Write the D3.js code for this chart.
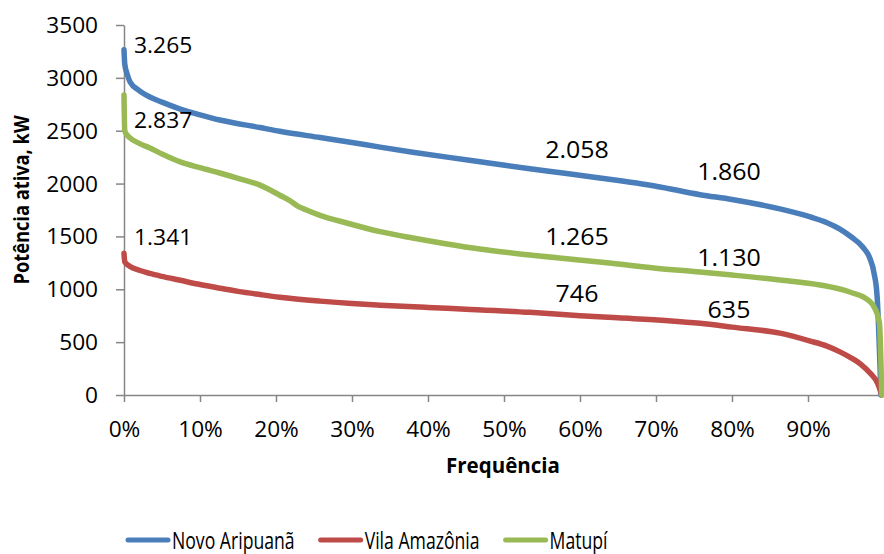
<!DOCTYPE html>
<html>
<head>
<meta charset="utf-8">
<script src="https://cdn.jsdelivr.net/npm/d3@7"></script>
<style>
body { margin: 0; background: #fff; }
svg text { font-family: "Open Sans", sans-serif; fill: #000; }
</style>
</head>
<body>
<div id="chart"></div>
<script>

// ---- data (frequency as fraction of time, power in kW) ----
var seriesNames = ["Novo Aripuanã", "Vila Amazônia", "Matupí"];

var novoAripuana = [
    [0, 3265], [0.001, 3130], [0.004, 3040], [0.008, 2961], [0.02, 2880], [0.034, 2819],
    [0.05, 2770], [0.074, 2705], [0.10, 2650], [0.126, 2601], [0.179, 2530], [0.205, 2495],
    [0.258, 2435], [0.30, 2388], [0.337, 2345], [0.38, 2297], [0.425, 2250], [0.48, 2195],
    [0.534, 2140], [0.58, 2097], [0.626, 2053], [0.70, 1975], [0.758, 1895], [0.80, 1850],
    [0.863, 1760], [0.903, 1684], [0.925, 1630], [0.942, 1570], [0.958, 1490], [0.972, 1400],
    [0.981, 1300], [0.987, 1150], [0.991, 927], [0.996, 0]
];

var vilaAmazonia = [
    [0, 1341], [0.001, 1260], [0.008, 1215], [0.02, 1180], [0.034, 1150], [0.05, 1122],
    [0.074, 1085], [0.10, 1045], [0.126, 1010], [0.15, 980], [0.179, 950], [0.205, 925],
    [0.258, 888], [0.30, 865], [0.337, 850], [0.40, 828], [0.45, 812], [0.534, 782],
    [0.60, 750], [0.65, 730], [0.716, 703], [0.758, 678], [0.80, 642], [0.863, 585],
    [0.903, 510], [0.925, 462], [0.942, 408], [0.955, 358], [0.97, 288], [0.982, 205],
    [0.992, 105], [0.997, 0]
];

var matupi = [
    [0, 2837], [0.001, 2500], [0.004, 2460], [0.008, 2431], [0.02, 2380], [0.034, 2337],
    [0.05, 2280], [0.074, 2205], [0.10, 2150], [0.126, 2100], [0.15, 2050], [0.179, 1985],
    [0.205, 1890], [0.218, 1840], [0.228, 1790], [0.24, 1750], [0.258, 1700], [0.293, 1627],
    [0.337, 1545], [0.38, 1485], [0.425, 1429], [0.468, 1381], [0.534, 1324], [0.626, 1258],
    [0.70, 1200], [0.758, 1164], [0.80, 1135], [0.863, 1088], [0.916, 1041], [0.955, 974],
    [0.979, 899], [0.989, 804], [0.994, 681], [0.997, 0]
];

// labels: peak value and values at 60% / 80%
var peakValues = [3265, 1341, 2837];
var midPcts = [0.6, 0.8];
var midValues = [[2058, 1860], [746, 635], [1265, 1130]];

var yTicks = [0, 500, 1000, 1500, 2000, 2500, 3000, 3500];
var xTicks = [0, 0.1, 0.2, 0.3, 0.4, 0.5, 0.6, 0.7, 0.8, 0.9];

// ---- layout / style ----
var colors = ["#4a7ebb", "#be4b48", "#98b954"];
var peakDy = [3, -8, 33];
var midDy = [[-19, -18], [-14, -10], [-16, -10]];
var axisColor = "#868686";

var width = 884, height = 554;
var plot = {left: 124, right: 884, top: 25, bottom: 395};

var ptBR = d3.formatLocale({decimal: ",", thousands: ".", grouping: [3], currency: ["R$", ""]});
var fmt = ptBR.format(",d");

var svg = d3.select("#chart").append("svg")
    .attr("width", width)
    .attr("height", height);

var x = d3.scaleLinear().domain([0, 1]).range([plot.left, plot.right]);
var y = d3.scaleLinear().domain([0, 3500]).range([plot.bottom, plot.top]);

// y axis
var yAxis = svg.append("g")
    .attr("class", "y axis")
    .attr("transform", "translate(" + plot.left + ",0)")
    .call(d3.axisLeft(y).tickValues(yTicks).tickSize(8).tickSizeOuter(0).tickFormat(d3.format("d")));

// x axis
var xAxis = svg.append("g")
    .attr("class", "x axis")
    .attr("transform", "translate(0," + plot.bottom + ")")
    .call(d3.axisBottom(x).tickValues(xTicks).tickSize(7).tickSizeOuter(0).tickFormat(d3.format(".0%")));

svg.selectAll(".axis path, .axis line")
    .attr("stroke", axisColor)
    .attr("stroke-width", 1.5);

yAxis.selectAll("text")
    .style("font-size", "21px")
    .attr("x", -24)
    .attr("dy", "0.36em")
    .attr("transform", "scale(1.08,1)");

xAxis.selectAll("text")
    .style("font-size", "21px")
    .attr("y", 42)
    .attr("dy", 0)
    .attr("transform", "scale(1.08,1)");

// axis titles
svg.append("text")
    .attr("transform", "translate(29,200) rotate(-90) scale(0.87,1)")
    .attr("text-anchor", "middle")
    .style("font-size", "21px")
    .style("font-weight", "bold")
    .text("Potência ativa, kW");

svg.append("text")
    .attr("x", 503)
    .attr("y", 473)
    .attr("text-anchor", "middle")
    .style("font-size", "20.5px")
    .style("font-weight", "bold")
    .text("Frequência");

// lines
var line = d3.line()
    .curve(d3.curveMonotoneX)
    .x(function(d) { return x(d[0]); })
    .y(function(d) { return y(d[1]); });

var allSeries = [novoAripuana, vilaAmazonia, matupi];

svg.append("g").attr("class", "lines").selectAll("path")
    .data(allSeries)
    .enter()
    .append("path")
    .attr("d", function(d) { return line(d); })
    .attr("fill", "none")
    .attr("stroke", function(d, i) { return colors[i]; })
    .attr("stroke-width", 5.5)
    .attr("stroke-linejoin", "round")
    .attr("stroke-linecap", "round");

// data labels
var labels = svg.append("g").attr("class", "labels");

peakValues.forEach(function(v, i) {
    labels.append("text")
        .attr("transform", "translate(" + (x(0) + 10) + "," + (y(v) + peakDy[i]) + ") scale(1.09,1)")
        .style("font-size", "21px")
        .text(fmt(v));
});

midValues.forEach(function(vals, i) {
    vals.forEach(function(v, j) {
        labels.append("text")
            .attr("transform", "translate(" + (x(midPcts[j]) - 3) + "," + (y(v) + midDy[i][j]) + ") scale(1.04,1)")
            .attr("text-anchor", "middle")
            .style("font-size", "24px")
            .text(fmt(v));
    });
});

// legend
var legend = svg.append("g").attr("class", "legend");
var lx = 128, ly = 540;
seriesNames.forEach(function(name, i) {
    legend.append("line")
        .attr("x1", lx).attr("x2", lx + 40)
        .attr("y1", ly).attr("y2", ly)
        .attr("stroke", colors[i])
        .attr("stroke-width", 5)
        .attr("stroke-linecap", "round");
    var t = legend.append("text")
        .attr("transform", "translate(" + (lx + 44) + "," + (ly + 8.5) + ") scale(0.72,1)")
        .style("font-size", "24.5px")
        .text(name);
    lx += 44 + t.node().getComputedTextLength() * 0.72 + 26;
});

</script>
</body>
</html>
